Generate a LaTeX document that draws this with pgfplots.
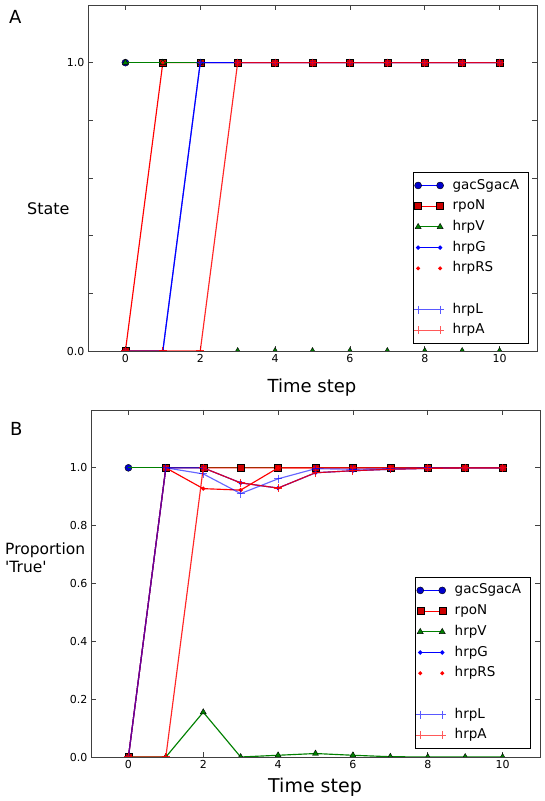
\documentclass[border=0pt]{standalone}
\usepackage{pgfplots}
\pgfplotsset{compat=1.18}
\usepackage{fontspec}
\setmainfont{DejaVu Sans}
\newfontfamily\dv{DejaVu Sans}
\definecolor{mplblue}{rgb}{0,0,1}
\definecolor{mplgreen}{rgb}{0,0.5,0}
\definecolor{mplred}{rgb}{1,0,0}
\definecolor{lightblue}{rgb}{0.35,0.35,1}
\definecolor{lightred}{rgb}{1,0.35,0.35}
\definecolor{spine}{gray}{0.25}

\pgfplotsset{
  legend image code/.code={\draw[#1] plot coordinates {(0pt,0pt) (22pt,0pt)};},
  panel/.style={
    scale only axis, width=449pt,
    xmin=-1, xmax=11, ymin=0, ymax=1.2,
    xtick={0,2,4,6,8,10}, xticklabels={0,2,4,6,8,10},
    tick align=inside, major tick length=5pt,
    axis line style={spine, line width=0.9pt},
    tick style={spine, line width=0.8pt},
    ticklabel style={font=\dv\fontsize{11}{13}\selectfont},
    clip marker paths=true,
    legend cell align=left,
    legend style={draw=black, line width=0.9pt, fill=white,
      anchor=south east,
      row sep=0pt, inner xsep=1pt, inner ysep=2.9pt,
      nodes={font=\dv\fontsize{13.5}{15}\selectfont, inner xsep=8.5pt, inner ysep=3.6pt, text height=10.3pt, text depth=3.2pt}},
  },
  ln/.style={line width=1.15pt},
}

\begin{document}
\begin{tikzpicture}[x=1pt,y=1pt]
\path[use as bounding box] (0,0) rectangle (545,801);

% ---------------- Panel A ----------------
\begin{axis}[panel, at={(88pt,450pt)}, anchor=south west, height=346pt,
  ytick={0,0.2,0.4,0.6,0.8,1.0}, yticklabels={0.0,,,,,1.0},
  legend style={at={(rel axis cs:0.982,0.02)}}]
% gacSgacA
\addplot[mplblue, ln, mark=*, mark size=3.5pt, mark options={fill=mplblue!80!black, draw=black, line width=0.4pt}, forget plot]
  coordinates {(0,1)(1,1)(2,1)(3,1)(4,1)(5,1)(6,1)(7,1)(8,1)(9,1)(10,1)};
% rpoN
\addplot[mplred, ln, mark=square*, mark size=3.5pt, mark options={fill=red!80!black, draw=black, line width=0.4pt}, forget plot]
  coordinates {(0,0)(1,1)(2,1)(3,1)(4,1)(5,1)(6,1)(7,1)(8,1)(9,1)(10,1)};
% hrpV
\addplot[mplgreen, ln, mark=triangle*, mark size=3.5pt, mark options={fill=mplgreen, draw=black, line width=0.4pt}, forget plot]
  coordinates {(0,1)(1,1)(2,1)};
\addplot[only marks, mplgreen, mark=triangle*, mark size=3.5pt, mark options={fill=mplgreen, draw=black, line width=0.4pt}, forget plot]
  coordinates {(3,0)(4,0)(5,0)(6,0)(7,0)(8,0)(9,0)(10,0)};
% hrpG
\addplot[mplblue, ln, mark=*, mark size=1.5pt, forget plot]
  coordinates {(0,0)(1,0)(2,1)(3,1)(4,1)(5,1)(6,1)(7,1)(8,1)(9,1)(10,1)};
% hrpRS
\addplot[only marks, mplred, mark=*, mark size=1.5pt, forget plot]
  coordinates {(0,0)(1,1)(2,1)(3,1)(4,1)(5,1)(6,1)(7,1)(8,1)(9,1)(10,1)};
% hrpL
\addplot[mplblue, opacity=0.6, ln, mark=+, mark size=4pt, forget plot]
  coordinates {(0,0)(1,0)(2,1)(3,1)(4,1)(5,1)(6,1)(7,1)(8,1)(9,1)(10,1)};
% hrpA
\addplot[mplred, opacity=0.85, ln, mark=+, mark size=4pt, forget plot]
  coordinates {(0,0)(1,0)(2,0)(3,1)(4,1)(5,1)(6,1)(7,1)(8,1)(9,1)(10,1)};

\addlegendimage{mplblue, ln, mark=*, mark size=3.5pt, mark options={fill=mplblue!80!black, draw=black, line width=0.4pt}}
\addlegendentry{gacSgacA}
\addlegendimage{mplred, ln, mark=square*, mark size=3.5pt, mark options={fill=red!80!black, draw=black, line width=0.4pt}}
\addlegendentry{rpoN}
\addlegendimage{mplgreen, ln, mark=triangle*, mark size=3.5pt, mark options={fill=mplgreen, draw=black, line width=0.4pt}}
\addlegendentry{hrpV}
\addlegendimage{mplblue, ln, mark=*, mark size=1.5pt}
\addlegendentry{hrpG}
\addlegendimage{/tikz/only marks, mplred, mark=*, mark size=1.5pt}
\addlegendentry{hrpRS}
\addlegendimage{empty legend}
\addlegendentry{}
\addlegendimage{lightblue, ln, mark=+, mark size=4pt}
\addlegendentry{hrpL}
\addlegendimage{lightred, ln, mark=+, mark size=4pt}
\addlegendentry{hrpA}
\end{axis}

% ---------------- Panel B ----------------
\begin{axis}[panel, at={(91pt,44pt)}, anchor=south west, height=347pt,
  ytick={0,0.2,0.4,0.6,0.8,1.0}, yticklabels={0.0,0.2,0.4,0.6,0.8,1.0},
  legend style={at={(rel axis cs:0.980,0.023)}}]
% gacSgacA
\addplot[mplblue, ln, mark=*, mark size=3.5pt, mark options={fill=mplblue!80!black, draw=black, line width=0.4pt}, forget plot]
  coordinates {(0,1)(1,1)(2,1)(3,1)(4,1)(5,1)(6,1)(7,1)(8,1)(9,1)(10,1)};
% green line at 1
\addplot[mplgreen, ln, forget plot]
  coordinates {(0,1)(1,1)(2,1)(3,1)(4,1)(5,1)(6,1)(7,1)(8,1)(9,1)(10,1)};
% rpoN
\addplot[mplred, ln, mark=square*, mark size=3.5pt, mark options={fill=red!80!black, draw=black, line width=0.4pt}, forget plot]
  coordinates {(0,0)(1,1)(2,1)(3,1)(4,1)(5,1)(6,1)(7,1)(8,1)(9,1)(10,1)};
% hrpV
\addplot[mplgreen, ln, mark=triangle*, mark size=3.5pt, mark options={fill=mplgreen, draw=black, line width=0.4pt}, forget plot]
  coordinates {(0,0)(1,0)(2,0.155)(3,0)(4,0.006)(5,0.012)(6,0.006)(7,0.001)(8,0)(9,0)(10,0)};
% hrpG
\addplot[mplblue, ln, mark=*, mark size=1.5pt, forget plot]
  coordinates {(0,0)(1,1)(2,1)(3,0.948)(4,0.93)(5,0.983)(6,0.99)(7,0.995)(8,0.998)(9,1)(10,1)};
% hrpRS
\addplot[mplred, ln, mark=*, mark size=1.5pt, forget plot]
  coordinates {(0,0)(1,1)(2,0.928)(3,0.923)(4,1)(5,1)(6,1)(7,1)(8,1)(9,1)(10,1)};
% hrpL
\addplot[mplblue, opacity=0.6, ln, mark=+, mark size=4pt, forget plot]
  coordinates {(0,0)(1,1)(2,0.979)(3,0.911)(4,0.962)(5,0.997)(6,0.995)(7,0.997)(8,1)(9,1)(10,1)};
% hrpA
\addplot[mplred, opacity=0.85, ln, mark=+, mark size=4pt, forget plot]
  coordinates {(0,0)(1,0)(2,1)(3,0.948)(4,0.93)(5,0.983)(6,0.99)(7,0.995)(8,0.998)(9,1)(10,1)};

\addlegendimage{mplblue, ln, mark=*, mark size=3.5pt, mark options={fill=mplblue!80!black, draw=black, line width=0.4pt}}
\addlegendentry{gacSgacA}
\addlegendimage{mplred, ln, mark=square*, mark size=3.5pt, mark options={fill=red!80!black, draw=black, line width=0.4pt}}
\addlegendentry{rpoN}
\addlegendimage{mplgreen, ln, mark=triangle*, mark size=3.5pt, mark options={fill=mplgreen, draw=black, line width=0.4pt}}
\addlegendentry{hrpV}
\addlegendimage{mplblue, ln, mark=*, mark size=1.5pt}
\addlegendentry{hrpG}
\addlegendimage{/tikz/only marks, mplred, mark=*, mark size=1.5pt}
\addlegendentry{hrpRS}
\addlegendimage{empty legend}
\addlegendentry{}
\addlegendimage{lightblue, ln, mark=+, mark size=4pt}
\addlegendentry{hrpL}
\addlegendimage{lightred, ln, mark=+, mark size=4pt}
\addlegendentry{hrpA}
\end{axis}

% ---------------- Labels ----------------
\node[anchor=base west, inner sep=0, font=\dv\fontsize{18}{20}\selectfont] at (9,777) {A};
\node[anchor=base west, inner sep=0, font=\dv\fontsize{18}{20}\selectfont] at (10,365) {B};
\node[anchor=base west, inner sep=0, font=\dv\fontsize{16}{18}\selectfont] at (27,586) {State};
\node[anchor=base west, inner sep=0, font=\dv\fontsize{15.5}{18}\selectfont] at (5,246) {Proportion};
\node[anchor=base west, inner sep=0, font=\dv\fontsize{15.5}{18}\selectfont] at (5,228) {'True'};
\node[anchor=base, inner sep=0, font=\dv\fontsize{18}{20}\selectfont] at (312,408) {Time step};
\node[anchor=base, inner sep=0, font=\dv\fontsize{19}{21}\selectfont] at (315,9) {Time step};
\end{tikzpicture}
\end{document}
